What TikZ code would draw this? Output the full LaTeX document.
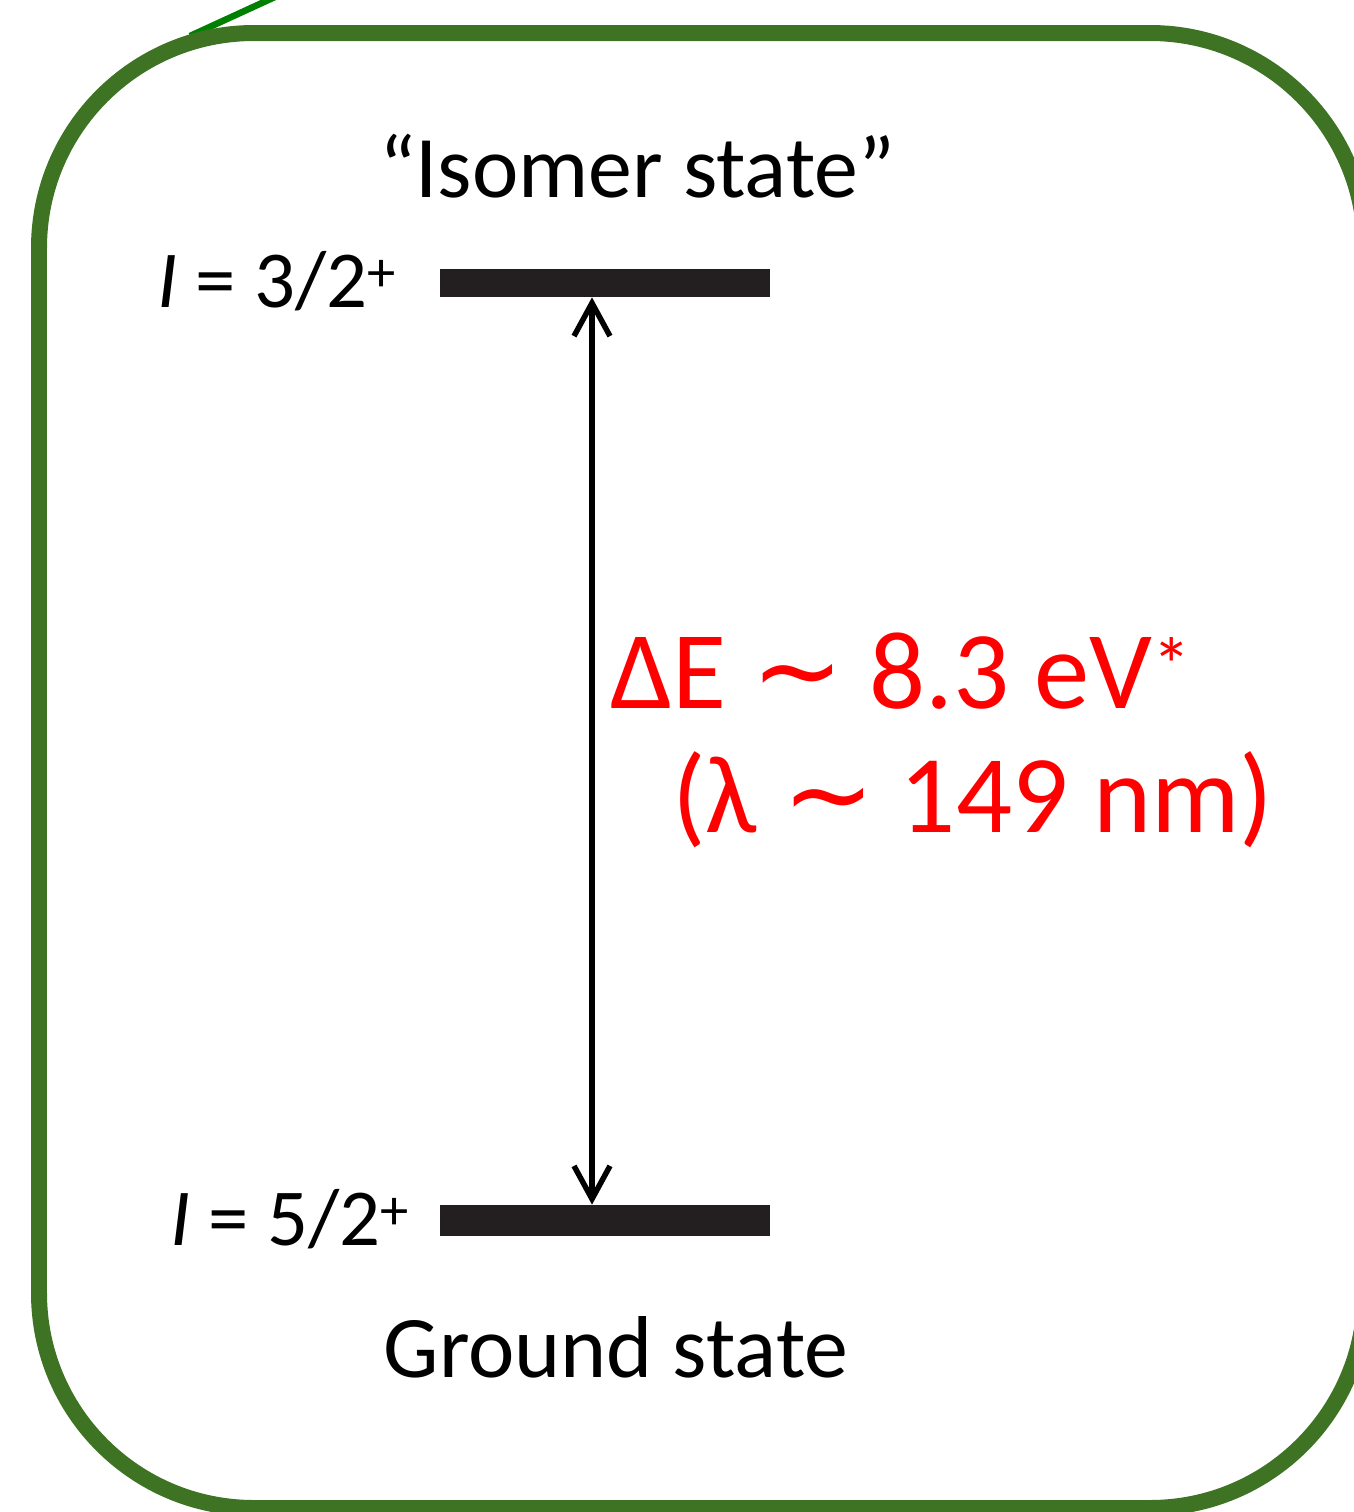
\documentclass[tikz,border=0pt]{standalone}
\usepackage{fontspec}
\setmainfont{Carlito}
\newfontfamily\symfont{DejaVu Sans}
\usepackage{tikz}
\usetikzlibrary{positioning, arrows.meta}
\definecolor{framegreen}{HTML}{3F7324}
\definecolor{barblack}{HTML}{231F20}
\tikzset{
    lvlbar/.style={fill=barblack, minimum width=6.6cm, minimum height=0.56cm, inner sep=0pt},
    statelbl/.style={font=\fontsize{50}{60}\selectfont, inner sep=0pt, anchor=base},
    spinlbl/.style={font=\fontsize{46}{55}\selectfont, inner sep=0pt, anchor=base east},
    gaplbl/.style={font=\fontsize{63}{75}\selectfont, text=red, inner sep=0pt, anchor=base west},
    trans/.style={{Straight Barb[length=6.6mm,width=7.2mm]}-{Straight Barb[length=6.6mm,width=7.2mm]}, line width=1.1mm},
    border/.style={draw=framegreen, line width=3.2mm, rounded corners=4.3cm},
    pointer/.style={draw=green!50!black, line width=1.3mm},
}

\begin{document}
\begin{tikzpicture}[x=0.02cm, y=-0.02cm]
        \clip (0,0) rectangle (1354,1512);
        % Stray pointer behind the frame
        \coordinate (p0) at (190,36);
        \coordinate (p1) at (301,-15);
        \draw[pointer] (p0) -- (p1);
        % Frame
        \draw[border] (39,33) rectangle (1365,1508);
        % Levels
        \node[lvlbar] (up) at (605,283) {};
        \node[lvlbar, minimum height=0.62cm] (lo) at (605,1220.5) {};
        \node[statelbl] (iso) at (637,197) {“Isomer state”};
        \node[statelbl] (gnd) at (616,1377) {Ground state};
        \node[spinlbl] (spinup) at (397,307) {\textit{I} = 3/2\textsuperscript{+}};
        \node[spinlbl] (spinlo) at (410,1245) {\textit{I} = 5/2\textsuperscript{+}};
        % Transition
        \draw[trans] ([xshift=-2.6mm]lo.north) -- ([xshift=-2.6mm]up.south);
        \node[gaplbl] (egap) at (610,708) {ΔE {\symfont ∼} 8.3 eV\textsuperscript{*}};
        \node[gaplbl] (wave) at (672,832) {(λ {\symfont ∼} 149 nm)};
    \end{tikzpicture}
\end{document}
